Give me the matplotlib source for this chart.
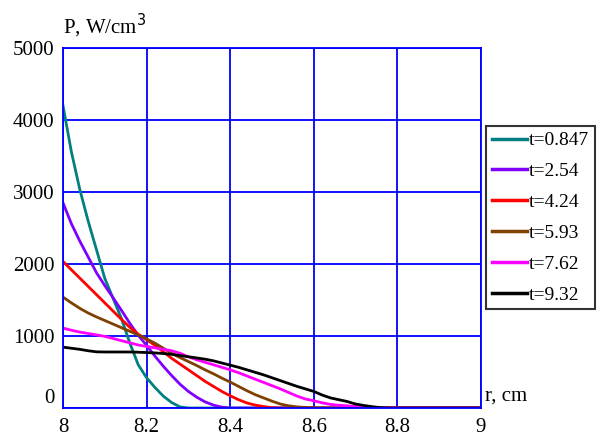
import numpy as np
import matplotlib
matplotlib.use("Agg")
import matplotlib.pyplot as plt
from matplotlib.transforms import ScaledTranslation

r = [8.00, 8.02, 8.04, 8.06, 8.08, 8.10, 8.12, 8.14, 8.16, 8.18,
     8.20, 8.22, 8.24, 8.26, 8.28, 8.30, 8.32, 8.34, 8.36, 8.38,
     8.40, 8.42, 8.44, 8.46, 8.48, 8.50, 8.52, 8.54, 8.56, 8.58,
     8.60, 8.62, 8.64, 8.66, 8.68, 8.70, 8.72, 8.74, 8.76, 8.78,
     8.80, 9.00]

p_t0847 = [4200, 3560, 3040, 2600, 2200, 1800, 1520, 1240, 900, 600,
           420, 285, 165, 75, 15, 0, 0, 0, 0, 0,
           0, 0, 0, 0, 0, 0, 0, 0, 0, 0,
           0, 0, 0, 0, 0, 0, 0, 0, 0, 0,
           0, 0]
p_t254 = [2850, 2560, 2320, 2100, 1880, 1700, 1530, 1355, 1175, 1010,
          870, 720, 580, 450, 330, 230, 150, 85, 40, 12,
          0, 0, 0, 0, 0, 0, 0, 0, 0, 0,
          0, 0, 0, 0, 0, 0, 0, 0, 0, 0,
          0, 0]
p_t424 = [2035, 1920, 1805, 1690, 1575, 1460, 1345, 1230, 1120, 1025,
          950, 870, 780, 690, 610, 530, 450, 370, 300, 230,
          170, 115, 70, 40, 20, 5, 0, 0, 0, 0,
          0, 0, 0, 0, 0, 0, 0, 0, 0, 0,
          0, 0]
p_t593 = [1540, 1460, 1385, 1320, 1265, 1215, 1165, 1115, 1065, 1015,
          960, 900, 830, 760, 700, 645, 590, 530, 475, 415,
          360, 300, 240, 185, 140, 95, 55, 30, 15, 8,
          3, 0, 0, 0, 0, 0, 0, 0, 0, 0,
          0, 0]
p_t762 = [1110, 1080, 1055, 1035, 1015, 995, 965, 935, 905, 875,
          855, 835, 815, 795, 760, 710, 670, 635, 600, 565,
          530, 490, 445, 400, 355, 310, 265, 215, 165, 125,
          100, 72, 50, 38, 30, 22, 15, 5, 0, 0,
          0, 0]
p_t932 = [845, 830, 815, 795, 780, 778, 778, 778, 778, 775,
          770, 765, 757, 745, 728, 712, 695, 678, 655, 625,
          595, 565, 530, 495, 460, 420, 380, 340, 300, 265,
          230, 180, 140, 115, 90, 55, 35, 18, 5, 0,
          0, 0]

labels = ["t=0.847", "t=2.54", "t=4.24", "t=5.93", "t=7.62", "t=9.32"]
series = [p_t0847, p_t254, p_t424, p_t593, p_t762, p_t932]
colors = ["#008080", "#8000ff", "#ff0000", "#804000", "#ff00ff", "#000000"]

x_ticks = [8, 8.2, 8.4, 8.6, 8.8, 9]
x_ticklabels = ["8", "8.2", "8.4", "8.6", "8.8", "9"]
y_ticks = [0, 1000, 2000, 3000, 4000, 5000]

plt.rcParams["font.family"] = ["Liberation Serif", "DejaVu Serif"]

fig = plt.figure(figsize=(6.0, 4.37), dpi=100)
ax = fig.add_axes([63/600, 1-408/437, (481-63)/600, (408-48)/437])

for vals, lab, c in zip(series, labels, colors):
    ax.plot(r, vals, color=c, lw=2.0, label=lab)

ax.set_xlim(8, 9)
ax.set_ylim(0, 5000)
ax.set_xticks(x_ticks)
ax.set_xticklabels(x_ticklabels)
ax.set_yticks(y_ticks)
ax.tick_params(length=0, labelsize=15)
ax.tick_params(axis="y", pad=6)
ax.tick_params(axis="x", pad=7)
ax.grid(True, color="#0000ff", lw=1.3)
for s in ax.spines.values():
    s.set_color("#0000ff")
    s.set_linewidth(1.3)
ax.set_axisbelow(True)

# shift the "0" y label upward like the reference
lbl0 = ax.get_yticklabels()[0]
lbl0.set_transform(lbl0.get_transform() + ScaledTranslation(0, 12/100, fig.dpi_scale_trans))

fig.text(63/600, 1-26/437, "P, W/cm$^{3}$", fontsize=15, ha="left", va="center")
fig.text(485/600, 1-396/437, "r, cm", fontsize=15, ha="left", va="center")

leg = ax.legend(loc="upper left", bbox_to_anchor=(486/600, 1-126/437),
                bbox_transform=fig.transFigure, fontsize=14,
                handlelength=1.8, handletextpad=0.1, labelspacing=0.68,
                borderaxespad=0, borderpad=0.3, fancybox=False,
                framealpha=1, edgecolor="#333333")
leg.get_frame().set_linewidth(1.5)
for h in leg.get_lines():
    h.set_linewidth(2.5)

fig.savefig("out.png", dpi=100)
